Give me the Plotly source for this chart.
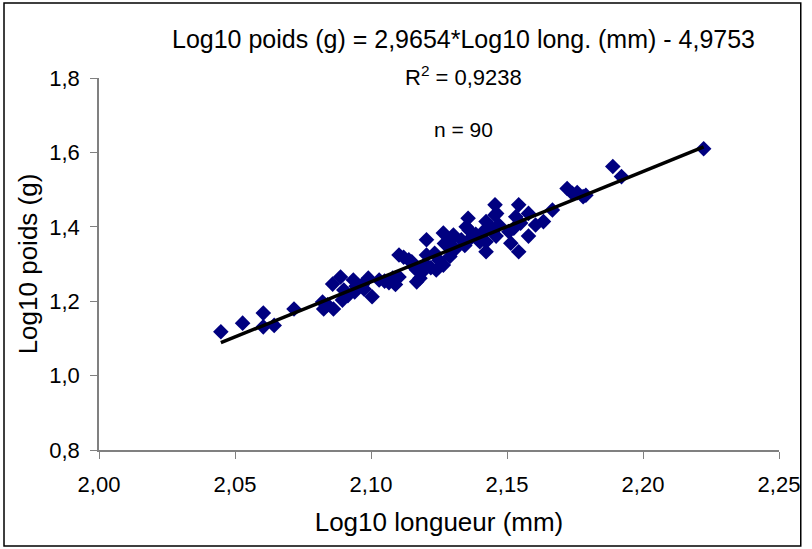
import plotly.graph_objects as go

# log10 longueur (mm) / log10 poids (g)
log_long = [2.0448, 2.0528, 2.0604, 2.0604, 2.0644, 2.0717, 2.0822, 2.0826, 2.0840, 2.0862,
            2.0859, 2.0888, 2.0895, 2.0900, 2.0915, 2.0935, 2.0940, 2.0968, 2.0975, 2.1004,
            2.0990, 2.1030, 2.1050, 2.1066, 2.1080, 2.1103, 2.1103, 2.1120, 2.1139, 2.1157,
            2.1168, 2.1168, 2.1150, 2.1185, 2.1200, 2.1204, 2.1204, 2.1220, 2.1234, 2.1240,
            2.1266, 2.1266, 2.1270, 2.1285, 2.1300, 2.1303, 2.1310, 2.1332, 2.1345, 2.1357,
            2.1361, 2.1370, 2.1385, 2.1400, 2.1423, 2.1423, 2.1423, 2.1440, 2.1456, 2.1456,
            2.1460, 2.1462, 2.1470, 2.1507, 2.1514, 2.1525, 2.1532, 2.1543, 2.1543, 2.1550,
            2.1579, 2.1579, 2.1605, 2.1634, 2.1667, 2.1721, 2.1740, 2.1758, 2.1780, 2.1790,
            2.1889, 2.1921, 2.2223, 2.1090, 2.1180, 2.1250, 2.1290, 2.1350, 2.1410, 2.0945]
log_poids = [1.118, 1.141, 1.168, 1.131, 1.135, 1.179, 1.198, 1.179, 1.190, 1.179,
             1.246, 1.265, 1.203, 1.230, 1.215, 1.257, 1.225, 1.244, 1.232, 1.212,
             1.262, 1.257, 1.254, 1.250, 1.262, 1.265, 1.324, 1.318, 1.311, 1.293,
             1.252, 1.284, 1.306, 1.276, 1.300, 1.365, 1.324, 1.290, 1.329, 1.284,
             1.297, 1.383, 1.355, 1.347, 1.370, 1.378, 1.340, 1.365, 1.350, 1.423,
             1.391, 1.372, 1.380, 1.360, 1.414, 1.360, 1.333, 1.400, 1.459, 1.432,
             1.375, 1.436, 1.405, 1.387, 1.356, 1.396, 1.427, 1.459, 1.333, 1.410,
             1.436, 1.375, 1.405, 1.414, 1.445, 1.503, 1.490, 1.492, 1.481, 1.485,
             1.562, 1.535, 1.610, 1.245, 1.262, 1.310, 1.320, 1.400, 1.385, 1.240]

pente = 2.9654
ordonnee = -4.9753
r2 = "0,9238"

x_line = [min(log_long), max(log_long)]
y_line = [pente * v + ordonnee for v in x_line]

fig = go.Figure()
fig.add_trace(go.Scatter(
    x=log_long, y=log_poids, mode='markers',
    marker=dict(symbol='diamond', size=12, color='#000080', line=dict(width=0)),
    showlegend=False
))
fig.add_trace(go.Scatter(
    x=x_line, y=y_line, mode='lines',
    line=dict(color='black', width=3.5),
    showlegend=False
))

police = 'Liberation Sans, Arial'

fig.update_layout(
    width=812, height=549,
    margin=dict(l=99, r=26, t=78, b=99),
    paper_bgcolor='white', plot_bgcolor='white',
    separators=', ',
    font=dict(family=police, size=22, color='black'),
    xaxis=dict(range=[2.0, 2.25], dtick=0.05, tickformat='.2f',
               showgrid=False, zeroline=False,
               showline=True, linecolor='#808080', linewidth=1.5,
               ticks='outside', ticklen=7, tickcolor='#808080',
               ticklabelstandoff=7,
               title=dict(text='Log10 longueur (mm)', standoff=17)),
    yaxis=dict(range=[0.8, 1.8], dtick=0.2, tickformat='.1f',
               showgrid=False, zeroline=False,
               showline=True, linecolor='#808080', linewidth=1.5,
               ticks='outside', ticklen=7, tickcolor='#808080',
               ticklabelstandoff=6,
               title=dict(text='Log10 poids (g)', standoff=4)),
)

fig.add_annotation(x=0.5357, y=1.148, xref='paper', yref='paper', showarrow=False,
                   text='Log10 poids (g) = 2,9654*Log10 long. (mm) - 4,9753',
                   font=dict(size=25))
fig.add_annotation(x=0.5357, y=1.049, xref='paper', yref='paper', showarrow=False,
                   text='R<sup>2</sup> = ' + r2, font=dict(size=22))
fig.add_annotation(x=0.5357, y=0.897, xref='paper', yref='paper', showarrow=False,
                   text='n = ' + str(len(log_long)), font=dict(size=21))

# cadre autour du graphique
fig.add_shape(type='rect', xref='paper', yref='paper',
              x0=-0.1397, x1=1.032, y0=-0.258, y1=1.2016,
              line=dict(color='black', width=1.5))

fig.write_html("out.html", config={'displayModeBar': False},
               post_script="document.body.style.margin='0';")
